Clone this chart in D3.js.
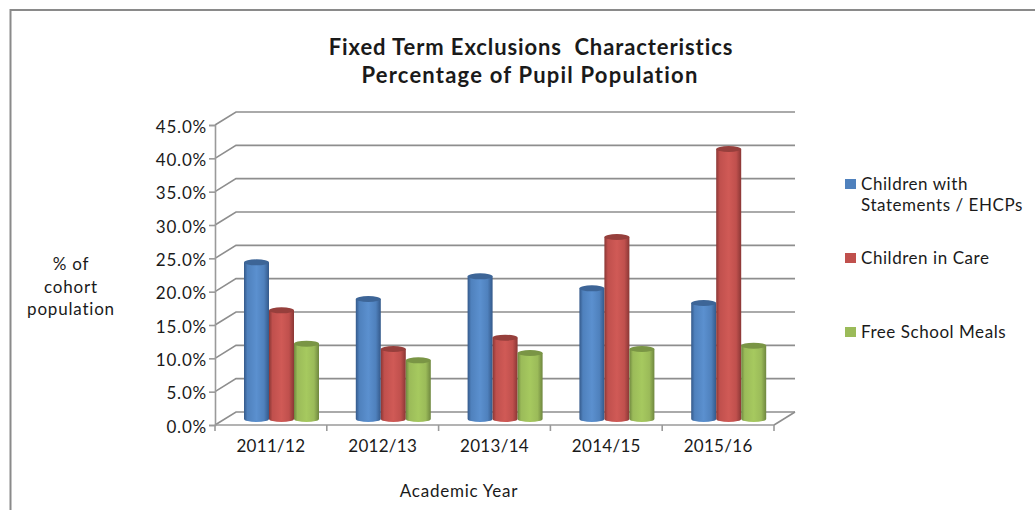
<!DOCTYPE html>
<html><head><meta charset="utf-8">
<script src="https://cdn.jsdelivr.net/npm/d3@7"></script>
<style>
html,body{margin:0;padding:0;background:#fff;overflow:hidden}
text{font-family:Lato,"Open Sans",sans-serif;fill:#1a1a1a}
</style></head><body>
<svg id="c" width="1035" height="510"></svg>
<script>
const categories=["2011/12","2012/13","2013/14","2014/15","2015/16"];
const seriesNames=["Children with Statements / EHCPs","Children in Care","Free School Meals"];
const statements=[23.5,18.0,21.4,19.6,17.4];
const inCare=[16.3,10.5,12.2,27.3,40.5];
const freeMeals=[11.3,8.8,9.9,10.5,11.0];
const yTicks=[0,5,10,15,20,25,30,35,40,45];
const seriesValues=[statements,inCare,freeMeals];
const palette=[
 {mid:"#4f81bd",light:"#5b90cf",dark:"#34598a",top:"#3d6597"},
 {mid:"#c0504d",light:"#d05a56",dark:"#8a3735",top:"#963f3c"},
 {mid:"#9bbb59",light:"#a6c95f",dark:"#6f873f",top:"#7a9545"}];

const svg=d3.select("#c");
const defs=svg.append("defs");
palette.forEach((p,i)=>{
  const g=defs.append("linearGradient").attr("id","g"+i);
  [[0,p.dark],[.14,p.mid],[.5,p.light],[.8,p.mid],[1,p.dark]].forEach(s=>
    g.append("stop").attr("offset",s[0]).attr("stop-color",s[1]));
});
const left=215,right=774,dx=21,dy=-13;
const y=d3.scaleLinear().domain([0,45]).range([425,125]);
const x=d3.scaleBand().domain(categories).range([left,right]);
const inner=d3.scaleBand().domain([0,1,2]).range([0,75]);
const gridCol="#8e8e8e";

// frame
svg.append("path").attr("d","M10.5,510V10H1035").attr("fill","none").attr("stroke","#8a8a8a").attr("stroke-width",2);

// walls
const grid=svg.append("g").attr("fill","none").attr("stroke",gridCol).attr("stroke-width",1.6);
grid.selectAll("path").data(yTicks).join("path")
 .attr("d",t=>`M${left},${y(t)}L${left+dx},${y(t)+dy}H${right+dx}`);
grid.append("path").attr("d",`M${right},${y(0)}L${right+dx},${y(0)+dy}`);

// axes
const yAxis=d3.axisLeft(y).tickValues(yTicks).tickFormat(d=>d.toFixed(1)+"%").tickSize(6).tickPadding(2);
const ya=svg.append("g").attr("transform",`translate(${left},0)`).call(yAxis);
ya.selectAll("text").attr("font-size",17).attr("letter-spacing",0.8).attr("dy","0.42em");
ya.selectAll("line,path").attr("stroke","#9a9a9a").attr("stroke-width",1.6);
const xAxis=d3.axisBottom(x).tickSize(0).tickPadding(15);
const xa=svg.append("g").attr("transform",`translate(0,${y(0)})`).call(xAxis);
xa.selectAll("text").attr("font-size",17).attr("letter-spacing",0.3);
xa.select("path").remove();
xa.selectAll("line").remove();
const xEdges=categories.map(c=>x(c)).concat([right]);
svg.append("g").selectAll("line").data(xEdges).join("line")
 .attr("x1",d=>d).attr("x2",d=>d).attr("y1",y(0)).attr("y2",y(0)+6)
 .attr("stroke","#9a9a9a").attr("stroke-width",1.6);
svg.append("line").attr("x1",left).attr("x2",right).attr("y1",y(0)).attr("y2",y(0))
 .attr("stroke","#9a9a9a").attr("stroke-width",1.6);

// cylinders
const base=y(0)-6, h0=y(0)-base;
const rows=[];
categories.forEach((c,ci)=>seriesValues.forEach((vals,si)=>rows.push({c,si,v:vals[ci]})));
const bars=svg.append("g").selectAll("g").data(rows).join("g")
 .attr("transform",d=>`translate(${x(d.c)+29+inner(d.si)},0)`);
const bw=inner.bandwidth(), ry=3;
bars.append("path")
 .attr("d",d=>{const t=y(d.v)-h0;return `M0,${t}V${base}A${bw/2},${ry} 0 0 0 ${bw},${base}V${t}Z`;})
 .attr("fill",d=>`url(#g${d.si})`);
bars.append("ellipse")
 .attr("cx",bw/2).attr("cy",d=>y(d.v)-h0).attr("rx",bw/2).attr("ry",ry)
 .attr("fill",d=>palette[d.si].top);

// title
const title=svg.append("text").attr("text-anchor","middle").attr("font-weight",700).attr("font-size",22);
title.append("tspan").attr("x",531).attr("y",55).attr("letter-spacing",0.9).text("Fixed Term Exclusions  Characteristics").attr("xml:space","preserve");
title.append("tspan").attr("x",530).attr("y",83).attr("letter-spacing",1.2).text("Percentage of Pupil Population");

// axis titles
const yt=svg.append("text").attr("text-anchor","middle").attr("font-size",17).attr("letter-spacing",0.8);
["% of","cohort","population"].forEach((s,i)=>yt.append("tspan").attr("x",71).attr("y",270+i*22.5).text(s));
svg.append("text").attr("x",459).attr("y",497).attr("text-anchor","middle").attr("font-size",17).attr("letter-spacing",0.75).text("Academic Year");

// legend
const legendLines=[["Children with","Statements / EHCPs"],["Children in Care"],["Free School Meals"]];
const legendY=[190,264,338];
const lg=svg.append("g").selectAll("g").data(seriesNames).join("g");
lg.append("rect").attr("x",845).attr("y",(d,i)=>[179,253,327][i]).attr("width",11).attr("height",10)
 .attr("fill",(d,i)=>palette[i].mid);
lg.each(function(d,i){
  const t=d3.select(this).append("text").attr("font-size",17).attr("letter-spacing",0.55);
  legendLines[i].forEach((s,k)=>t.append("tspan").attr("x",861).attr("y",legendY[i]+k*21).text(s));
});
</script></body></html>
